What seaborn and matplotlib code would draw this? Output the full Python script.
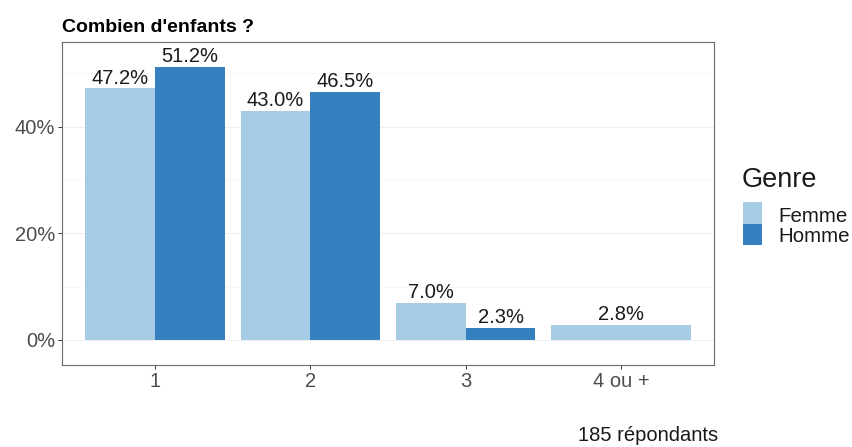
import matplotlib
matplotlib.use("Agg")
import matplotlib.pyplot as plt
from matplotlib.patches import Rectangle
import seaborn as sns
import pandas as pd

# Share of respondents by number of children and gender (%)
categories = ["1", "2", "3", "4 ou +"]
femme = [47.2, 43.0, 7.0, 2.8]
homme = [51.2, 46.5, 2.3, None]
genres = ["Femme", "Homme"]
colors = {"Femme": "#A5CCE4", "Homme": "#3780C0"}
y_ticks = [0, 20, 40]
title = "Combien d'enfants ?"
caption = "185 répondants"
legend_title = "Genre"

rows = []
for cat, f, h in zip(categories, femme, homme):
    if f is not None:
        rows.append({"Enfants": cat, "Genre": "Femme", "Pct": f})
    if h is not None:
        rows.append({"Enfants": cat, "Genre": "Homme", "Pct": h})
df = pd.DataFrame(rows)

sns.set_theme(style="white")
plt.rcParams["font.family"] = ["Liberation Sans", "DejaVu Sans"]

W, H = 853, 447
fig = plt.figure(figsize=(W / 100, H / 100), dpi=100)
ax = fig.add_axes([0.0727, 0.1834, 0.7643, 0.7226])


def fx(px):
    return px / W


def fy(py):
    return 1 - py / H


# categories where both genders answered are dodged; single-group ones fill the slot
counts = df.groupby("Enfants")["Genre"].transform("count")
paired = df[counts > 1]
single = df[counts == 1]

bar_kw = dict(x="Enfants", y="Pct", hue="Genre", order=categories,
              hue_order=genres, palette=colors, width=0.9, saturation=1,
              legend=False, ax=ax, errorbar=None, linewidth=0)
sns.barplot(data=paired, dodge=True, **bar_kw)
sns.barplot(data=single, dodge=False, **bar_kw)

for p in ax.patches:
    h = p.get_height()
    if h is None or h != h or p.get_width() == 0:
        continue
    ax.annotate(f"{h:.1f}%", (p.get_x() + p.get_width() / 2, h),
                xytext=(0, 0.5), textcoords="offset points",
                ha="center", va="bottom", fontsize=14.5, color="#1a1a1a")

ax.set_xlim(-0.6, 3.6)
ax.set_ylim(-4.7, 55.9)
ax.set_yticks(y_ticks)
ax.set_yticklabels([f"{v}%" for v in y_ticks])
ax.set_xlabel("")
ax.set_ylabel("")

ax.set_axisbelow(True)
ax.yaxis.grid(True, color="#EBEBEB", lw=0.6)
for v in [10, 30, 50]:
    ax.axhline(v, color="#F4F4F4", lw=0.4, zorder=0)
ax.xaxis.grid(False)

for s in ax.spines.values():
    s.set_visible(True)
    s.set_color("#6b6b6b")
    s.set_linewidth(0.8)

ax.tick_params(axis="both", which="major", length=3, width=0.7, color="#333333",
               labelsize=14.5, labelcolor="#4D4D4D", pad=2, bottom=True, left=True)

fig.text(fx(62), fy(32), title, fontsize=14, fontweight="bold", ha="left",
         va="baseline", color="black")
fig.text(fx(718), fy(441), caption, fontsize=14.5, ha="right", va="baseline",
         color="#1a1a1a")

# legend: title, stacked colour keys and labels
fig.text(fx(742), fy(187), legend_title, fontsize=19.5, ha="left",
         va="baseline", color="#1a1a1a")
key_top = 202
key_h = 21.5
for i, g in enumerate(genres):
    top = key_top + i * key_h
    fig.add_artist(Rectangle((fx(743), fy(top + key_h)), fx(762) - fx(743),
                             key_h / H, transform=fig.transFigure,
                             facecolor=colors[g], edgecolor="none"))
    fig.text(fx(778), fy(222 + i * 20), g, fontsize=14.8, ha="left",
             va="baseline", color="#1a1a1a")

fig.savefig("out.png", dpi=100)
